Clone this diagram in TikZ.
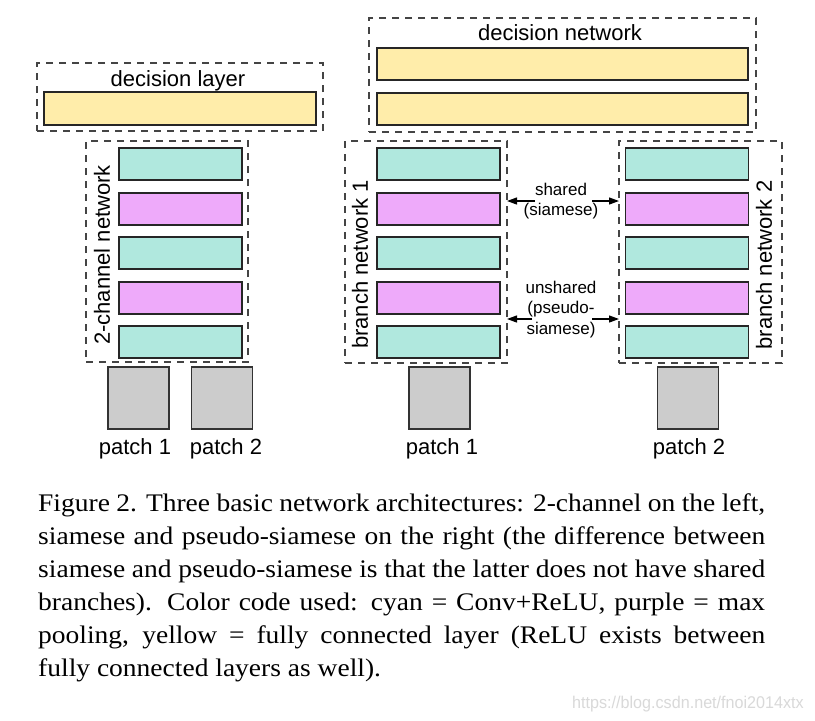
\documentclass[tikz,border=0pt]{standalone}
\usepackage{fontspec}
\setmainfont{Liberation Serif}
\newfontfamily\hv{Liberation Sans}
\usetikzlibrary{arrows.meta}
\definecolor{cy}{HTML}{B0E8DE}
\definecolor{pu}{HTML}{EEAAFA}
\definecolor{ye}{HTML}{FFEDAA}
\definecolor{pg}{HTML}{CCCCCC}
\definecolor{dl}{HTML}{444444}
\begin{document}
\begin{tikzpicture}[x=1pt,y=-1pt,
 bar/.style={draw=black!85, line width=1.1pt, inner sep=0pt, outer sep=0pt, minimum height=32pt},
 cbar/.style={bar, fill=cy, minimum width=123pt},
 pbar/.style={bar, fill=pu, minimum width=123pt},
 ybar/.style={bar, fill=ye},
 patchbox/.style={draw=black!80, line width=1.1pt, fill=pg, inner sep=0pt, outer sep=0pt, minimum width=61pt, minimum height=62pt},
 dbox/.style={draw=dl, dash pattern=on 7pt off 6pt, line width=1.1pt, inner sep=0pt, outer sep=0pt},
 lbl/.style={font=\hv\fontsize{22}{26}\selectfont, inner sep=0pt},
 slbl/.style={font=\hv\fontsize{17}{20}\selectfont, inner sep=0pt},
 arr/.style={-{Triangle[length=10pt,width=7pt]}, line width=1.2pt},
]
\useasboundingbox (0,0) rectangle (815,721);
\fill[white] (0,0) rectangle (815,721);

% ---------- left: 2-channel ----------
\node[dbox, minimum width=286pt, minimum height=68pt] (dlbox) at (180,97) {};
\node[lbl, anchor=base] (dltext) at (178,86) {decision layer};
\node[ybar, minimum width=272pt, minimum height=33pt] (dly) at (180,108.5) {};

\node[dbox, minimum width=162pt, minimum height=221pt] (twobox) at (167,251.5) {};
\node[lbl, rotate=90] (twotext) at (102,255) {2-channel network};
\node[cbar] (t1) at (180.5,164) {};
\node[pbar] (t2) at (180.5,209) {};
\node[cbar] (t3) at (180.5,253) {};
\node[pbar] (t4) at (180.5,298) {};
\node[cbar] (t5) at (180.5,342) {};

\node[patchbox] (lp1) at (138.5,398) {};
\node[patchbox] (lp2) at (222,398) {};
\node[lbl, anchor=base] (lp1t) at (135,454) {patch 1};
\node[lbl, anchor=base] (lp2t) at (226,454) {patch 2};

% ---------- right: siamese ----------
\node[dbox, minimum width=387pt, minimum height=114pt] (dnbox) at (562.5,75) {};
\node[lbl, anchor=base] (dntext) at (560,40) {decision network};
\node[ybar, minimum width=371pt] (dn1) at (562.5,64) {};
\node[ybar, minimum width=371pt] (dn2) at (562.5,109) {};

\node[dbox, minimum width=162pt, minimum height=222pt] (b1box) at (426,252) {};
\node[lbl, rotate=90] (b1text) at (360,264.5) {branch network 1};
\node[cbar] (a1) at (438.5,164) {};
\node[pbar] (a2) at (438.5,209) {};
\node[cbar] (a3) at (438.5,253) {};
\node[pbar] (a4) at (438.5,298) {};
\node[cbar] (a5) at (438.5,342) {};

\node[dbox, minimum width=163pt, minimum height=222pt] (b2box) at (700.5,252) {};
\node[lbl, rotate=90] (b2text) at (764,265) {branch network 2};
\node[cbar] (c1) at (687,164) {};
\node[pbar] (c2) at (687,209) {};
\node[cbar] (c3) at (687,253) {};
\node[pbar] (c4) at (687,298) {};
\node[cbar] (c5) at (687,342) {};

\node[patchbox] (rp1) at (439.5,398) {};
\node[patchbox] (rp2) at (688,398) {};
\node[lbl, anchor=base] (rp1t) at (442,454) {patch 1};
\node[lbl, anchor=base] (rp2t) at (689,454) {patch 2};

% shared / unshared
\node[slbl, anchor=base] (sh1) at (561,195) {shared};
\node[slbl, anchor=base] (sh2) at (561,215.5) {(siamese)};
\coordinate (s1) at (535,201);
\coordinate (s2) at (592,201);
\draw[arr] (s1) -- (b1box.east |- s1);
\draw[arr] (s2) -- (b2box.west |- s2);

\node[slbl, anchor=base] (us1) at (561,293) {unshared};
\node[slbl, anchor=base] (us2) at (561,313.5) {(pseudo-};
\node[slbl, anchor=base] (us3) at (561,334) {siamese)};
\coordinate (u1) at (532,319);
\coordinate (u2) at (592,319);
\draw[arr] (u1) -- (b1box.east |- u1);
\draw[arr] (u2) -- (b2box.west |- u2);

% caption
\node[anchor=north west, inner sep=0pt] (cap) at (38,493) {\scalebox{1}[0.92]{\parbox{727pt}{\fontsize{27.5}{35.9}\selectfont\hyphenpenalty=10000 \exhyphenpenalty=10000 \tolerance=10000
Figure 2. Three basic network architectures: 2-channel on the left,\linebreak
siamese and pseudo-siamese on the right (the difference between\linebreak
siamese and pseudo-siamese is that the latter does not have shared\linebreak
branches). Color code used: cyan = Conv+ReLU, purple = max\linebreak
pooling, yellow = fully connected layer (ReLU exists between\linebreak
fully connected layers as well).}}};

\node[anchor=base east, inner sep=0pt, text=black!15, font=\hv\fontsize{17}{20}\selectfont, xscale=0.95] (wm) at (804,708) {https://blog.csdn.net/fnoi2014xtx};
\end{tikzpicture}
\end{document}
